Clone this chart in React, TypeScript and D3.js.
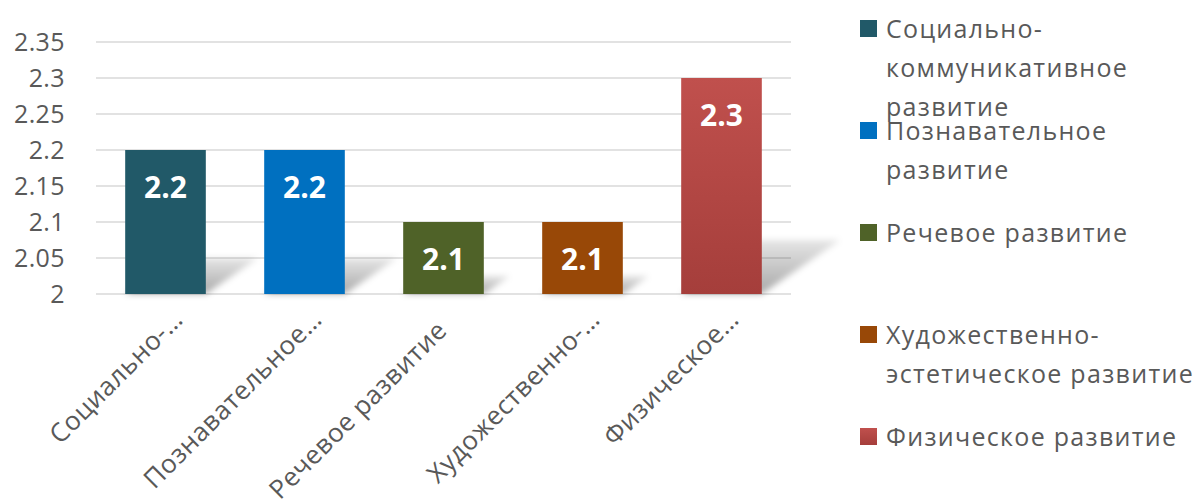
import React from "react";
import * as d3 from "d3";

const categories = [
  "Социально-коммуникативное развитие",
  "Познавательное развитие",
  "Речевое развитие",
  "Художественно-эстетическое развитие",
  "Физическое развитие",
];
const values = [2.2, 2.2, 2.1, 2.1, 2.3];
const barColors = ["#215968", "#0070c0", "#4f6228", "#984807", "#c0504d"];
const axisLabels = [
  "Социально-…",
  "Познавательное…",
  "Речевое развитие",
  "Художественно-…",
  "Физическое…",
];
const legendLines = [
  ["Социально-", "коммуникативное", "развитие"],
  ["Познавательное", "развитие"],
  ["Речевое развитие"],
  ["Художественно-", "эстетическое развитие"],
  ["Физическое развитие"],
];
const yTicks = [2, 2.05, 2.1, 2.15, 2.2, 2.25, 2.3, 2.35];
const yTickLabels = ["2", "2.05", "2.1", "2.15", "2.2", "2.25", "2.3", "2.35"];

const W = 1195;
const H = 503;
const FONT = "'Open Sans', sans-serif";
const TEXT = "#595959";

const App: React.FC = () => {
  const x = d3
    .scaleBand()
    .domain(categories)
    .range([96, 791])
    .paddingInner(0.42)
    .paddingOuter(0.21);

  const y = d3.scaleLinear().domain([2, 2.35]).range([294, 42]);
  const y0 = y(2);

  return (
    <svg
      width={W}
      height={H}
      style={{ position: "absolute", left: 0, top: 0, background: "#fff" }}
    >
      <defs>
        <linearGradient id="shadowGrad" x1="0" y1="1" x2="0" y2="0">
          <stop offset="0" stopColor="#000" stopOpacity={0.34} />
          <stop offset="1" stopColor="#000" stopOpacity={0.1} />
        </linearGradient>
        <filter id="blur" x="-30%" y="-50%" width="160%" height="200%">
          <feGaussianBlur stdDeviation={3} />
        </filter>
        <linearGradient id="redGrad" x1="0" y1="0" x2="0" y2="1">
          <stop offset="0" stopColor="#c0504d" />
          <stop offset="1" stopColor="#a53e3b" />
        </linearGradient>
      </defs>

      {/* gridlines */}
      {yTicks.map((t) => (
        <line
          key={t}
          x1={96}
          x2={791}
          y1={y(t)}
          y2={y(t)}
          stroke="#d9d9d9"
          strokeWidth={1.5}
        />
      ))}

      {/* y tick labels */}
      {yTicks.map((t, i) => (
        <text
          key={"yl" + t}
          x={65}
          y={y(t)}
          dy="0.36em"
          textAnchor="end"
          fontFamily={FONT}
          fontSize={25}
          letterSpacing={0.4}
          fill={TEXT}
        >
          {yTickLabels[i]}
        </text>
      ))}

      {/* floor shadows */}
      {categories.map((c, i) => {
        const bx = x(c) || 0;
        const bw = x.bandwidth();
        const sh = 0.25 * (y0 - y(values[i]));
        const k = 1.45;
        const pts = [
          [bx, y0],
          [bx + bw, y0],
          [bx + bw + k * sh, y0 - sh],
          [bx + k * sh, y0 - sh],
        ]
          .map((p) => p.join(","))
          .join(" ");
        return (
          <polygon
            key={"s" + c}
            points={pts}
            fill="url(#shadowGrad)"
            filter="url(#blur)"
          />
        );
      })}

      {/* bars */}
      {categories.map((c, i) => (
        <rect
          key={"b" + c}
          x={x(c)}
          y={y(values[i])}
          width={x.bandwidth()}
          height={y0 - y(values[i])}
          fill={i === 4 ? "url(#redGrad)" : barColors[i]}
        />
      ))}

      {/* data labels */}
      {categories.map((c, i) => (
        <text
          key={"v" + c}
          x={(x(c) || 0) + x.bandwidth() / 2}
          y={y(values[i]) + 37}
          dy="0.36em"
          textAnchor="middle"
          fontFamily={FONT}
          fontWeight="bold"
          fontSize={30}
          fill="#fff"
        >
          {values[i]}
        </text>
      ))}

      {/* x axis labels */}
      {categories.map((c, i) => {
        const cut = axisLabels[i].endsWith("…");
        const cx = (x(c) || 0) + x.bandwidth() / 2 + (cut ? 19 : 5);
        const cy = cut ? 321 : 332;
        return (
          <text
            key={"x" + c}
            transform={`translate(${cx},${cy}) rotate(-45)`}
            textAnchor="end"
            fontFamily={FONT}
            fontSize={26}
            letterSpacing={0.5}
            fill={TEXT}
          >
            {axisLabels[i]}
          </text>
        );
      })}

      {/* legend */}
      {legendLines.map((lines, i) => {
        const cy = 29 + i * 102;
        return (
          <g key={"lg" + i}>
            <rect
              x={860}
              y={cy - 9}
              width={17}
              height={17}
              fill={i === 4 ? "url(#redGrad)" : barColors[i]}
            />
            <text
              fontFamily={FONT}
              fontSize={25}
              letterSpacing={1.3}
              fill={TEXT}
            >
              {lines.map((ln, j) => (
                <tspan key={j} x={886} y={cy + 9 + j * 39}>
                  {ln}
                </tspan>
              ))}
            </text>
          </g>
        );
      })}
    </svg>
  );
};

export default App;
